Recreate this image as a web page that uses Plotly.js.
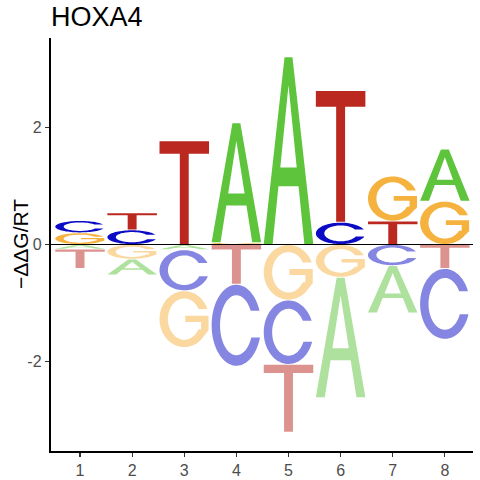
<!DOCTYPE html>
<html><head><meta charset="utf-8">
<script src="https://cdn.plot.ly/plotly-3.0.1.min.js"></script>
<style>html,body{margin:0;padding:0;background:#fff}</style>
</head><body><div id="chart" style="width:480px;height:480px"></div>
<script>
// ---- data ----
const positions = [1, 2, 3, 4, 5, 6, 7, 8];
const xTickLabels = ['1', '2', '3', '4', '5', '6', '7', '8'];
const bases = ['A', 'C', 'G', 'T'];
const valA = [-0.08, -0.27, -0.09, 2.05, 3.21, -2.06, -0.81, 0.89];
const valC = [0.21, 0.25, -0.70, -1.40, -1.10, 0.38, -0.36, -1.21];
const valG = [0.20, -0.25, -0.97, 0.03, -0.95, -0.56, 0.77, 0.74];
const valT = [-0.33, 0.29, 1.77, -0.68, -1.16, 2.25, 0.40, -0.41];
const yTickVals = [-2, 0, 2];
const yTickLabels = ['-2', '0', '2'];

// ---- styles ----
const colors = {A: '#5EC43C', C: '#0B0BC6', G: '#F5B23F', T: '#BA281F'};
const fontFam = 'Liberation Sans, Arial, Helvetica, sans-serif';
const letterWidth = 0.95;

function hexToRgba(h, a) {
  const n = parseInt(h.slice(1), 16);
  return 'rgba(' + ((n >> 16) & 255) + ',' + ((n >> 8) & 255) + ',' + (n & 255) + ',' + a + ')';
}
function arc(cx, cy, rx, ry, a0, a1, n) {
  const pts = [];
  for (let i = 0; i <= n; i++) {
    const a = (a0 + (a1 - a0) * i / n) * Math.PI / 180;
    pts.push([cx + rx * Math.cos(a), cy + ry * Math.sin(a)]);
  }
  return pts;
}
const deg = r => r * 180 / Math.PI;

// glyph outlines in a unit box (u: 0..1 across, v: 0..1 up)
function glyph(L) {
  if (L === 'T') {
    return [[[0, 0.88], [0, 1], [1, 1], [1, 0.88], [0.59, 0.88], [0.59, 0], [0.41, 0], [0.41, 0.88]]];
  }
  if (L === 'A') {
    const xl = v => 0.18 + 0.32 * v / 0.85, xr = v => 0.82 - 0.32 * v / 0.85;
    return [
      [[0, 0], [0.42, 1], [0.58, 1], [1, 0], [0.82, 0], [xr(0.31), 0.31], [xl(0.31), 0.31], [0.18, 0]],
      [[xl(0.41), 0.41], [0.5, 0.85], [xr(0.41), 0.41]]
    ];
  }
  const orx = 0.5, ory = 0.5, irx = 0.33, iry = 0.37, vt = 0.68;
  const ao1 = deg(Math.asin((vt - 0.5) / ory)), ai1 = deg(Math.asin((vt - 0.5) / iry));
  if (L === 'C') {
    const vb = 0.35;
    const ao2 = 360 - deg(Math.asin((0.5 - vb) / ory)), ai2 = 360 - deg(Math.asin((0.5 - vb) / iry));
    return [arc(0.5, 0.5, orx, ory, ao1, ao2, 72).concat(arc(0.5, 0.5, irx, iry, ai2, ai1, 72))];
  }
  // G
  const outer = arc(0.5, 0.5, orx, ory, ao1, 325, 72);
  const inner = arc(0.5, 0.5, irx, iry, 330, ai1, 72);
  return [outer.concat([[0.99, 0.30], [0.99, 0.56], [0.52, 0.56], [0.52, 0.45], [0.84, 0.45], [0.84, 0.32]], inner)];
}

const shapes = [];
function addLetter(L, xc, y0, y1, fill) {
  const h = y1 - y0;
  const ins = Math.min(0.007, h * 0.08);
  const b = y0 + ins, hh = h - 2 * ins;
  const x0 = xc - letterWidth / 2;
  const path = glyph(L).map(sub =>
    'M' + sub.map(p => (x0 + p[0] * letterWidth).toFixed(4) + ',' + (b + p[1] * hh).toFixed(4)).join('L') + 'Z'
  ).join(' ');
  shapes.push({type: 'path', xref: 'x', yref: 'y', path: path, fillcolor: fill,
    line: {width: 0}, fillrule: 'evenodd', layer: 'above'});
}

const series = {A: valA, C: valC, G: valG, T: valT};
positions.forEach((p, i) => {
  const vals = bases.map(L => ({L: L, v: series[L][i]}));
  const pos = vals.filter(d => d.v > 0).sort((a, b) => a.v - b.v);
  const neg = vals.filter(d => d.v < 0).sort((a, b) => b.v - a.v);
  let base = 0;
  pos.forEach(d => { addLetter(d.L, p, base, base + d.v, colors[d.L]); base += d.v; });
  base = 0;
  neg.forEach(d => { addLetter(d.L, p, base + d.v, base, hexToRgba(colors[d.L], 0.5)); base += d.v; });
});

// zero line
shapes.push({type: 'line', xref: 'paper', yref: 'y', x0: 0, x1: 1, y0: 0, y1: 0,
  line: {color: '#000', width: 1}, layer: 'above'});

const data = [{type: 'scatter', mode: 'markers', x: positions, y: positions.map(() => 0),
  marker: {size: 1, opacity: 0}, hoverinfo: 'skip', showlegend: false}];

const axisCommon = {showgrid: false, zeroline: false, showline: true, linecolor: '#000', linewidth: 2.2,
  ticks: 'outside', ticklen: 4, tickwidth: 1.1, tickcolor: '#333',
  tickfont: {family: fontFam, size: 16, color: '#4D4D4D'}, fixedrange: true};

const layout = {
  width: 480, height: 480,
  margin: {l: 51, r: 7, t: 38, b: 29},
  paper_bgcolor: '#fff', plot_bgcolor: '#fff', showlegend: false,
  title: {text: 'HOXA4', font: {family: fontFam, size: 27, color: '#000'},
    x: 0, xref: 'paper', xanchor: 'left', y: 1 - 17 / 480, yref: 'container', yanchor: 'middle'},
  xaxis: Object.assign({}, axisCommon, {range: [0.443, 8.54], tickmode: 'array', tickvals: positions, ticktext: xTickLabels}),
  yaxis: Object.assign({}, axisCommon, {range: [-3.53, 3.53], tickmode: 'array', tickvals: yTickVals, ticktext: yTickLabels}),
  annotations: [{text: '\u2212\u0394\u0394G/RT', textangle: -90, xref: 'paper', yref: 'paper',
    x: (20.5 - 51) / 422, y: 0.5, xanchor: 'center', yanchor: 'middle', showarrow: false,
    font: {family: fontFam, size: 21, color: '#000'}}],
  shapes: shapes
};

Plotly.newPlot('chart', data, layout, {displayModeBar: false, staticPlot: true});
</script></body></html>
